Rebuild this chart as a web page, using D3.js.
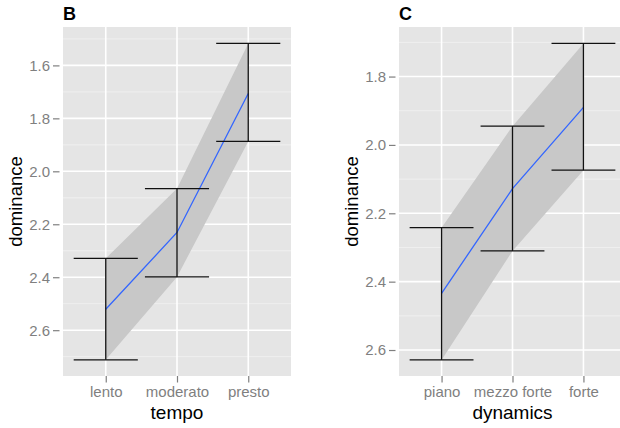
<!DOCTYPE html>
<html>
<head>
<meta charset="utf-8">
<script src="https://cdnjs.cloudflare.com/ajax/libs/d3/7.8.5/d3.min.js"></script>
<style>
  body { margin: 0; background: #fff; }
  text { font-family: "Liberation Sans", Arial, Helvetica, sans-serif; }
</style>
</head>
<body>
<script>
// panel B: tempo
var tempoLevels = ["lento", "moderato", "presto"];
var tempoMean = [2.521, 2.231, 1.706];
var tempoLow = [2.329, 2.065, 1.517];
var tempoHigh = [2.712, 2.399, 1.887];
var tempoTicks = [1.6, 1.8, 2.0, 2.2, 2.4, 2.6];
var tempoMinor = [1.5, 1.7, 1.9, 2.1, 2.3, 2.5, 2.7];

// panel C: dynamics
var dynLevels = ["piano", "mezzo forte", "forte"];
var dynMean = [2.434, 2.128, 1.890];
var dynLow = [2.242, 1.945, 1.703];
var dynHigh = [2.629, 2.310, 2.074];
var dynTicks = [1.8, 2.0, 2.2, 2.4, 2.6];
var dynMinor = [1.7, 1.9, 2.1, 2.3, 2.5];

var svg = d3.select("body").append("svg")
  .attr("width", 620)
  .attr("height", 428);

function panel(opt) {
  var x = d3.scalePoint()
    .domain(opt.levels)
    .range([opt.x0, opt.x1])
    .padding(0.6);
  var y = d3.scaleLinear()
    .domain(opt.ydom)
    .range([opt.y0, opt.y1]);
  var step = x.step();

  var g = svg.append("g");

  // background
  g.append("rect")
    .attr("x", opt.x0).attr("y", opt.y0)
    .attr("width", opt.x1 - opt.x0).attr("height", opt.y1 - opt.y0)
    .attr("fill", "#e5e5e5");

  // minor grid
  g.selectAll(".minor").data(opt.minor.filter(function(d) { return y(d) > opt.y0 && y(d) < opt.y1; }))
    .enter().append("line")
    .attr("x1", opt.x0).attr("x2", opt.x1)
    .attr("y1", function(d) { return y(d); }).attr("y2", function(d) { return y(d); })
    .attr("stroke", "#f2f2f2").attr("stroke-width", 0.8);

  // major grid
  g.selectAll(".hmaj").data(opt.ticks)
    .enter().append("line")
    .attr("x1", opt.x0).attr("x2", opt.x1)
    .attr("y1", function(d) { return y(d); }).attr("y2", function(d) { return y(d); })
    .attr("stroke", "#fff").attr("stroke-width", 1.6);
  g.selectAll(".vmaj").data(opt.levels)
    .enter().append("line")
    .attr("x1", function(d) { return x(d); }).attr("x2", function(d) { return x(d); })
    .attr("y1", opt.y0).attr("y2", opt.y1)
    .attr("stroke", "#fff").attr("stroke-width", 1.6);

  var rows = opt.levels.map(function(d, i) {
    return { lev: d, mean: opt.mean[i], low: opt.low[i], high: opt.high[i] };
  });

  // ribbon
  g.append("path")
    .datum(rows)
    .attr("fill", "#c8c8c8")
    .attr("d", d3.area()
      .x(function(d) { return x(d.lev); })
      .y0(function(d) { return y(d.low); })
      .y1(function(d) { return y(d.high); }));

  // mean line
  g.append("path")
    .datum(rows)
    .attr("fill", "none")
    .attr("stroke", "#3366ff")
    .attr("stroke-width", 1.3)
    .attr("d", d3.line()
      .x(function(d) { return x(d.lev); })
      .y(function(d) { return y(d.mean); }));

  // error bars
  var eb = g.selectAll(".eb").data(rows).enter().append("g")
    .attr("stroke", "#111").attr("stroke-width", 1.3);
  eb.append("line")
    .attr("x1", function(d) { return x(d.lev); }).attr("x2", function(d) { return x(d.lev); })
    .attr("y1", function(d) { return y(d.low); }).attr("y2", function(d) { return y(d.high); });
  eb.append("line")
    .attr("x1", function(d) { return x(d.lev) - step * 0.45; }).attr("x2", function(d) { return x(d.lev) + step * 0.45; })
    .attr("y1", function(d) { return y(d.low); }).attr("y2", function(d) { return y(d.low); });
  eb.append("line")
    .attr("x1", function(d) { return x(d.lev) - step * 0.45; }).attr("x2", function(d) { return x(d.lev) + step * 0.45; })
    .attr("y1", function(d) { return y(d.high); }).attr("y2", function(d) { return y(d.high); });

  // y axis
  var yAxis = d3.axisLeft(y).tickValues(opt.ticks).tickFormat(d3.format(".1f")).tickSize(6.5).tickPadding(3);
  var ya = g.append("g").attr("transform", "translate(" + (opt.x0 - 3.5) + ",0)").call(yAxis);
  ya.select(".domain").remove();
  ya.selectAll("line").attr("stroke", "#7f7f7f").attr("stroke-width", 1.2);
  ya.selectAll("text").attr("fill", "#7f7f7f").style("font-size", "15px");

  // x axis
  var xAxis = d3.axisBottom(x).tickSize(6.5).tickPadding(4);
  var xa = g.append("g").attr("transform", "translate(0," + opt.y1 + ")").call(xAxis);
  xa.select(".domain").remove();
  xa.selectAll("line").attr("stroke", "#7f7f7f").attr("stroke-width", 1.2);
  xa.selectAll("text").attr("fill", "#7f7f7f").style("font-size", "15px");

  // titles
  g.append("text")
    .attr("x", (opt.x0 + opt.x0 + step * 3.2) / 2).attr("y", 419)
    .attr("text-anchor", "middle").style("font-size", "19px")
    .text(opt.xlab);
  g.append("text")
    .attr("transform", "translate(" + opt.ylabX + "," + ((opt.y0 + opt.y1) / 2) + ") rotate(-90)")
    .attr("text-anchor", "middle").style("font-size", "18.5px")
    .text("dominance");
  g.append("text")
    .attr("x", opt.x0).attr("y", 20)
    .style("font-size", "18px").style("font-weight", "bold")
    .text(opt.tag);
}

panel({
  levels: tempoLevels, mean: tempoMean, low: tempoLow, high: tempoHigh,
  ticks: tempoTicks, minor: tempoMinor, ydom: [1.455, 2.773],
  x0: 63, x1: 291, y0: 27, y1: 376, ylabX: 22, xlab: "tempo", tag: "B"
});
panel({
  levels: dynLevels, mean: dynMean, low: dynLow, high: dynHigh,
  ticks: dynTicks, minor: dynMinor, ydom: [1.655, 2.676],
  x0: 399, x1: 626, y0: 27, y1: 376, ylabX: 358, xlab: "dynamics", tag: "C"
});
</script>
</body>
</html>
